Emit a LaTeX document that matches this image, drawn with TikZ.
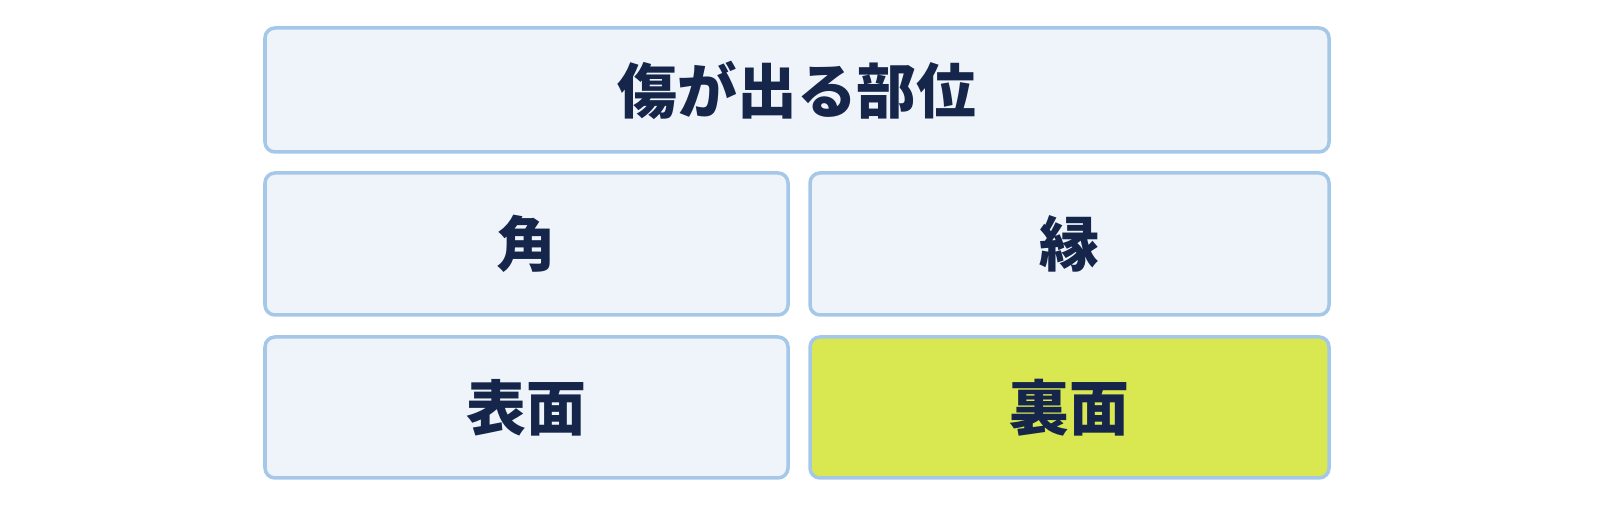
\documentclass[tikz,border=0pt]{standalone}
\usepackage{fontspec}
\newfontfamily\jpfont{Noto Sans CJK JP}
\usepackage{tikz}

\definecolor{boxfill}{HTML}{EEF4FA}
\definecolor{boxline}{HTML}{A6C8E8}
\definecolor{markfill}{HTML}{D9E851}
\definecolor{textnavy}{HTML}{16264A}

\begin{document}
\begin{tikzpicture}[
	cell/.style={draw=boxline, fill=boxfill, line width=1pt, rounded corners=0.1cm,
		inner sep=0pt, outer sep=0pt, text=textnavy,
		font=\jpfont\bfseries\fontsize{17}{20}\selectfont},
	marked/.style={cell, fill=markfill}]
	\useasboundingbox (0,0) rectangle (16,5.09);
	
	% Header
	\node[cell, minimum width=10.64cm, minimum height=1.24cm] (part) at (7.97,4.19) {傷が出る部位};
	
	% first row
	\node[cell, minimum width=5.23cm, minimum height=1.42cm] (kado) at (5.265,2.65) {角};
	\node[cell, minimum width=5.19cm, minimum height=1.42cm] (fuchi) at (10.695,2.65) {縁};
	
	% second row
	\node[cell, minimum width=5.23cm, minimum height=1.41cm] (hyomen) at (5.265,1.015) {表面};
	\node[marked, minimum width=5.19cm, minimum height=1.41cm] (ura) at (10.695,1.015) {裏面};
	
\end{tikzpicture}
\end{document}
